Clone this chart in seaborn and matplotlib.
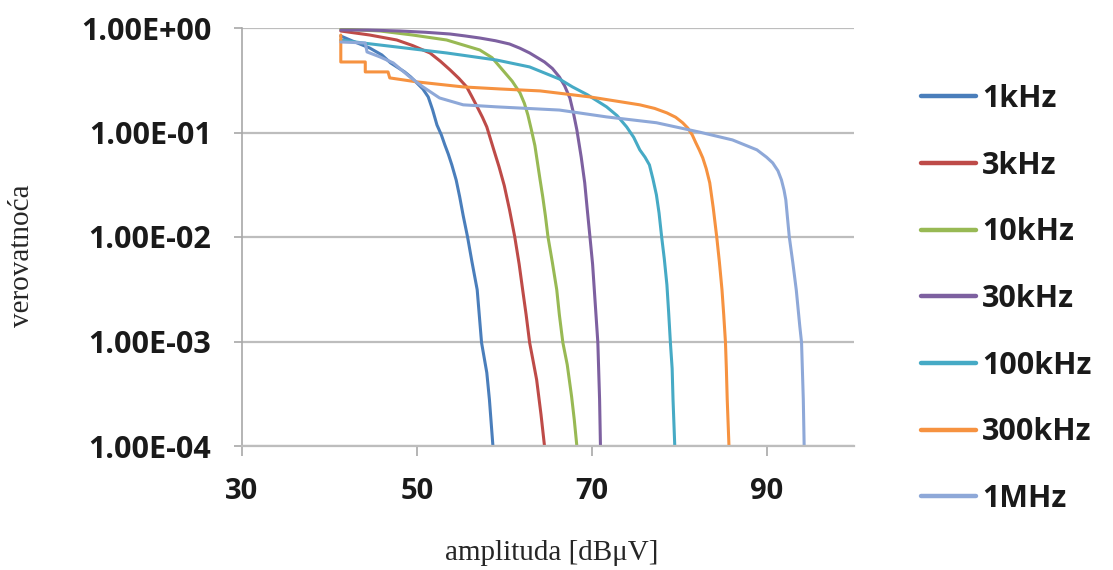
import numpy as np
import pandas as pd
import matplotlib
matplotlib.use("Agg")
import matplotlib.pyplot as plt
import seaborn as sns
from matplotlib.ticker import FixedLocator, FuncFormatter, NullLocator

# ---------------- data ----------------
series_names = ["1kHz", "3kHz", "10kHz", "30kHz", "100kHz", "300kHz", "1MHz"]
series_colors = ["#4A7EBB", "#BE4B48", "#98B954", "#7D60A0", "#46AAC5", "#F69240", "#8EA8D8"]

amp_1k = [41.3, 42.9, 44.6, 46.0, 47.0, 48.6, 49.3, 50.0, 50.7, 51.3, 51.8, 52.3, 52.8, 53.2, 53.6, 54.0,
          54.5, 54.9, 55.3, 55.8, 56.3, 56.9, 57.4, 58.0, 58.3, 58.7]
prob_1k = [0.838, 0.735, 0.644, 0.552, 0.463, 0.380, 0.34, 0.298, 0.26, 0.219, 0.165, 0.118, 0.095, 0.0761,
           0.062, 0.0490, 0.035, 0.0242, 0.016, 0.0100, 0.0058, 0.00313, 0.000975, 0.000503, 0.000278, 0.0001]

amp_3k = [41.3, 44.6, 47.7, 49.5, 51.5, 52.7, 53.8, 54.8, 55.7, 56.3, 56.9, 57.5, 58.0, 58.8, 59.4, 60.0,
          60.6, 60.9, 61.2, 61.7, 62.1, 62.5, 62.9, 63.3, 63.7, 64.2, 64.6]
prob_3k = [0.936, 0.857, 0.768, 0.68, 0.577, 0.48, 0.397, 0.33, 0.273, 0.22, 0.176, 0.14, 0.113, 0.0682,
           0.047, 0.031, 0.0182, 0.0135, 0.0100, 0.0055, 0.00313, 0.0018, 0.000975, 0.00065, 0.000431,
           0.0002, 0.0001]

amp_10k = [41.3, 45.8, 49.5, 53.4, 57.2, 58.6, 59.8, 60.9, 61.8, 62.3, 62.7, 63.1, 63.5, 63.8, 64.1, 64.4,
           64.7, 65.0, 65.5, 66.0, 66.3, 66.7, 67.2, 67.7, 68.0, 68.3]
prob_10k = [0.978, 0.936, 0.857, 0.768, 0.616, 0.52, 0.397, 0.31, 0.239, 0.19, 0.147, 0.106, 0.075, 0.0512,
            0.035, 0.0242, 0.016, 0.0100, 0.0057, 0.00313, 0.0018, 0.000975, 0.0006, 0.000297, 0.00018, 0.0001]

amp_30k = [41.3, 44.5, 48.1, 51.0, 53.8, 55.5, 57.2, 59.0, 60.6, 61.8, 62.9, 64.6, 65.5, 66.3, 66.9, 67.5,
           67.9, 68.3, 68.8, 69.2, 69.5, 69.8, 70.1, 70.3, 70.7, 70.9, 71.0]
prob_30k = [0.957, 0.955, 0.936, 0.91, 0.876, 0.84, 0.802, 0.755, 0.703, 0.64, 0.577, 0.473, 0.41, 0.340,
            0.28, 0.214, 0.155, 0.106, 0.058, 0.033, 0.018, 0.0100, 0.0055, 0.0031, 0.00098, 0.00028, 0.0001]

amp_100k = [41.3, 43.8, 47.7, 53.4, 59.1, 62.9, 66.3, 67.8, 69.5, 71.7, 72.9, 74.0, 74.8, 75.5, 76.1, 76.6,
            77.0, 77.4, 77.7, 78.0, 78.3, 78.6, 78.8, 79.0, 79.2, 79.3, 79.5]
prob_100k = [0.768, 0.719, 0.658, 0.577, 0.494, 0.424, 0.325, 0.273, 0.23, 0.176, 0.145, 0.113, 0.09, 0.0682,
             0.058, 0.0490, 0.036, 0.0253, 0.017, 0.0100, 0.0062, 0.00349, 0.0019, 0.000975, 0.00055, 0.000278,
             0.0001]

amp_300k = [41.3, 41.3, 44.1, 44.1, 46.7, 46.9, 50.0, 55.3, 59.5, 64.1, 69.8, 75.5, 77.2, 78.6, 79.6, 80.4,
            81.0, 81.5, 81.9, 82.3, 82.7, 83.1, 83.5, 83.9, 84.3, 84.6, 84.9, 85.1, 85.3, 85.4, 85.5, 85.7]
prob_300k = [0.857, 0.473, 0.473, 0.380, 0.380, 0.333, 0.305, 0.273, 0.261, 0.250, 0.219, 0.184, 0.17, 0.154,
             0.14, 0.124, 0.11, 0.0948, 0.08, 0.0682, 0.0572, 0.045, 0.0330, 0.019, 0.0100, 0.0058, 0.00313,
             0.0018, 0.000975, 0.00055, 0.000278, 0.0001]

amp_1M = [41.3, 44.1, 44.3, 45.8, 47.3, 49.2, 50.7, 52.6, 55.3, 59.1, 66.3, 71.7, 77.4, 82.3, 86.1, 88.9,
          90.0, 90.7, 91.3, 91.7, 92.0, 92.2, 92.4, 92.6, 93.0, 93.4, 93.8, 94.0, 94.2, 94.3]
prob_1M = [0.735, 0.719, 0.590, 0.528, 0.463, 0.340, 0.273, 0.214, 0.184, 0.176, 0.164, 0.141, 0.124, 0.101,
           0.0849, 0.0682, 0.058, 0.0512, 0.043, 0.0352, 0.028, 0.0227, 0.015, 0.0100, 0.0057, 0.0031, 0.0014,
           0.00098, 0.00028, 0.0001]

x_ticks = [30, 50, 70, 90]
y_ticks = [1e-4, 1e-3, 1e-2, 1e-1, 1e0]
x_label = "amplituda [dB\u03bcV]"
y_label = "verovatno\u0107a"

# ---------------- build long-form table ----------------
amps = [amp_1k, amp_3k, amp_10k, amp_30k, amp_100k, amp_300k, amp_1M]
probs = [prob_1k, prob_3k, prob_10k, prob_30k, prob_100k, prob_300k, prob_1M]
frames = []
for name, a, p in zip(series_names, amps, probs):
    frames.append(pd.DataFrame({"amplitude": a, "prob": p, "series": name}))
df = pd.concat(frames, ignore_index=True)

# ---------------- figure ----------------
sns.set_style("white")
plt.rcParams["font.family"] = ["Open Sans", "DejaVu Sans"]

W, H = 1113, 570
fig = plt.figure(figsize=(W / 100, H / 100), dpi=100)
L, R, T, B = 242, 854, 28, 446
ax = fig.add_axes([L / W, 1 - B / H, (R - L) / W, (B - T) / H])

palette = dict(zip(series_names, series_colors))
sns.lineplot(data=df, x="amplitude", y="prob", hue="series", palette=palette,
             hue_order=series_names, units="series", estimator=None, sort=False,
             linewidth=2.2, ax=ax, legend=True)
for line in ax.get_lines():
    line.set_solid_joinstyle("round")

ax.set_yscale("log")
ax.set_ylim(1e-4, 1)
ax.set_xlim(30, 100)
ax.xaxis.set_major_locator(FixedLocator(x_ticks))
ax.yaxis.set_major_locator(FixedLocator(y_ticks))
ax.yaxis.set_minor_locator(NullLocator())
ax.xaxis.set_minor_locator(NullLocator())
ax.yaxis.set_major_formatter(FuncFormatter(lambda v, pos: f"{v:.2E}"))

grid_c = "#BDBDBD"
ax.yaxis.grid(True, color=grid_c, linewidth=1.6)
ax.xaxis.grid(False)
for s in ["top", "right"]:
    ax.spines[s].set_visible(False)
ax.spines["left"].set_color("#A8A8A8")
ax.spines["left"].set_linewidth(1.2)
ax.spines["bottom"].set_color(grid_c)
ax.spines["bottom"].set_linewidth(1.6)

ax.tick_params(axis="y", which="major", length=6, width=1.2, color="#A8A8A8",
               pad=16, labelsize=22, left=True)
ax.tick_params(axis="x", which="major", length=7, width=1.2, color="#A8A8A8",
               pad=15, labelsize=21, bottom=True)
for lab in ax.get_xticklabels() + ax.get_yticklabels():
    lab.set_fontweight("bold")
    lab.set_color("#1a1a1a")

ax.set_xlabel("")
ax.set_ylabel("")
fig.text(552 / W, 1 - 553 / H, x_label, ha="center", va="center",
         family="Liberation Serif", fontsize=21)
fig.text(22 / W, 1 - 256 / H, y_label, ha="center", va="center", rotation=90,
         family="Liberation Serif", fontsize=21)

handles, labels = ax.get_legend_handles_labels()
leg = ax.legend(handles, labels, loc="upper left",
                bbox_to_anchor=(921 / W, 1 - 84 / H), bbox_transform=fig.transFigure,
                frameon=False, borderpad=0, borderaxespad=0,
                handlelength=1.8, handletextpad=0.2, labelspacing=1.2,
                prop={"family": "Open Sans", "weight": "bold", "size": 22})
for line in leg.get_lines():
    line.set_linewidth(3.2)
for t in leg.get_texts():
    t.set_color("#1a1a1a")

fig.savefig("out.png", dpi=100)
